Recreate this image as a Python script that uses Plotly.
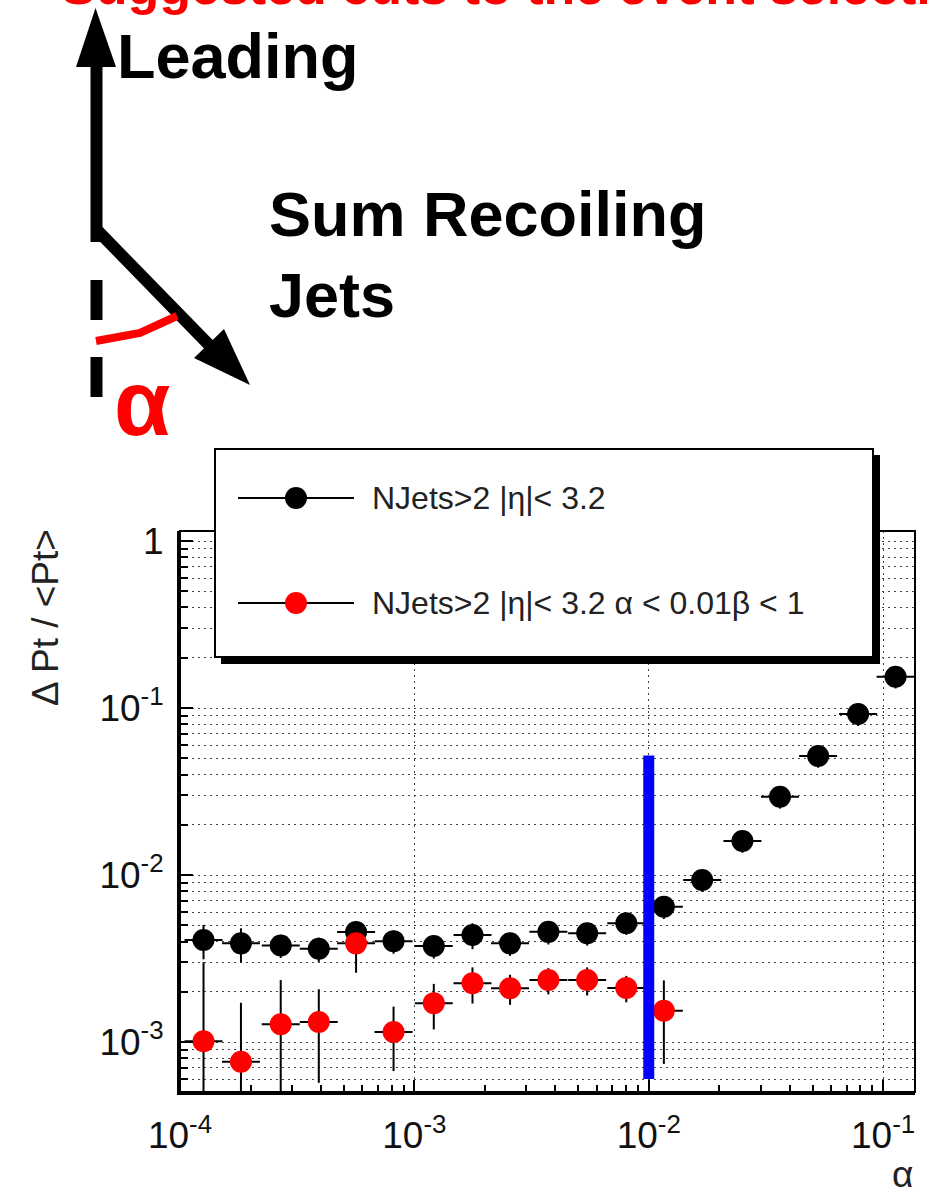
import plotly.graph_objects as go

# ---- measured dijet balance vs alpha ----
alpha = [1.26e-4, 1.82e-4, 2.69e-4, 3.91e-4, 5.64e-4, 8.15e-4, 1.21e-3, 1.77e-3,
         2.56e-3, 3.73e-3, 5.46e-3, 8.02e-3, 1.16e-2, 1.69e-2, 2.51e-2, 3.63e-2,
         5.28e-2, 7.82e-2, 0.113]

# NJets>2 |eta|<3.2
resp_all = [4.08e-3, 3.90e-3, 3.79e-3, 3.62e-3, 4.56e-3, 4.02e-3, 3.76e-3, 4.37e-3,
            3.90e-3, 4.57e-3, 4.48e-3, 5.14e-3, 6.46e-3, 9.33e-3, 1.60e-2, 2.94e-2,
            5.16e-2, 9.21e-2, 0.154]
err_all = [0.95e-3, 0.90e-3, 0.60e-3, 0.60e-3, 0.75e-3, 0.64e-3, 0.60e-3, 0.77e-3,
           0.62e-3, 0.73e-3, 0.70e-3, 0.75e-3, 1.0e-3, 1.4e-3, 2.4e-3, 4.4e-3,
           7.7e-3, 1.4e-2, 2.3e-2]

# NJets>2 |eta|<3.2, alpha<0.01, beta<1
alpha_sel = alpha[:13]
resp_sel = [1.01e-3, 7.62e-4, 1.28e-3, 1.32e-3, 3.90e-3, 1.15e-3, 1.71e-3, 2.25e-3,
            2.10e-3, 2.35e-3, 2.35e-3, 2.11e-3, 1.54e-3]
err_sel = [2.0e-3, 0.96e-3, 1.07e-3, 0.75e-3, 1.3e-3, 0.48e-3, 0.52e-3, 0.55e-3,
           0.43e-3, 0.42e-3, 0.45e-3, 0.38e-3, 0.8e-3]

# alpha cut marker
alpha_cut = 0.01
cut_line_y = [6.0e-4, 5.2e-2]

# axis ticks
x_tickvals = [1e-4, 1e-3, 1e-2, 1e-1]
x_ticktext = ["10<sup>-4</sup>", "10<sup>-3</sup>", "10<sup>-2</sup>", "10<sup>-1</sup>"]
y_tickvals = [1e-3, 1e-2, 1e-1, 1]
y_ticktext = ["10<sup>-3</sup>", "10<sup>-2</sup>", "10<sup>-1</sup>", "1"]

legend_labels = ["NJets>2 |η|< 3.2", "NJets>2 |η|< 3.2 α < 0.01β < 1"]

BIN_HALF_DEX = 0.081  # half bin width in decades (log-binned histogram)

W, H = 933, 1200
SANS = "Liberation Sans, Arial, Helvetica, sans-serif"
DOT = "2px,4px"


def px(x):
    return x / W


def py(y):
    return 1 - y / H


def bin_err(xs):
    plus = [a * (10 ** BIN_HALF_DEX - 1) for a in xs]
    minus = [a * (1 - 10 ** -BIN_HALF_DEX) for a in xs]
    return plus, minus


def minor_vals(lo_exp, hi_exp):
    vals = []
    for e in range(lo_exp, hi_exp):
        for m in range(2, 10):
            vals.append(m * 10 ** e)
    return vals


fig = go.Figure()

for xs, ys, es, col in [(alpha, resp_all, err_all, "black"),
                        (alpha_sel, resp_sel, err_sel, "#ff0000")]:
    xp, xm = bin_err(xs)
    fig.add_trace(go.Scatter(
        x=xs, y=ys, mode="markers",
        marker=dict(size=22, color=col, symbol="circle", line=dict(width=0)),
        error_x=dict(type="data", symmetric=False, array=xp, arrayminus=xm,
                     color="black", thickness=2, width=0),
        error_y=dict(type="data", array=es, color="black", thickness=2, width=0),
        showlegend=False,
    ))

# cut line
fig.add_trace(go.Scatter(
    x=[alpha_cut, alpha_cut], y=cut_line_y, mode="lines",
    line=dict(color="#0000ff", width=11), showlegend=False,
))

fig.update_xaxes(
    type="log", range=[-4.0, -0.864], domain=[px(180), px(915)],
    automargin=False,
    showline=True, linewidth=3, linecolor="black",
    ticks="inside", ticklen=12, tickwidth=1.5, tickcolor="black",
    tickmode="array", tickvals=x_tickvals, ticktext=x_ticktext,
    tickfont=dict(family=SANS, size=37, color="#111"),
    ticklabelstandoff=9,
    showgrid=True, gridcolor="#444", gridwidth=1, griddash=DOT,
    minor=dict(tickmode="array", tickvals=minor_vals(-4, 0), ticks="inside",
               ticklen=7, tickwidth=1.5, tickcolor="black", showgrid=False),
    zeroline=False,
)
fig.update_yaxes(
    type="log", range=[-3.299, 0.060], domain=[py(1092), py(531)],
    automargin=False,
    showline=True, linewidth=3, linecolor="black",
    ticks="inside", ticklen=13, tickwidth=1.5, tickcolor="black",
    tickmode="array", tickvals=y_tickvals, ticktext=y_ticktext,
    tickfont=dict(family=SANS, size=37, color="#111"),
    ticklabelstandoff=6,
    showgrid=True, gridcolor="#444", gridwidth=1, griddash=DOT,
    minor=dict(tickmode="array", tickvals=minor_vals(-4, 1), ticks="inside",
               ticklen=8, tickwidth=1.5, tickcolor="black",
               showgrid=True, gridcolor="#444", gridwidth=1, griddash=DOT),
    zeroline=False,
)

shapes = []
# frame
shapes.append(dict(type="rect", xref="paper", yref="paper",
                   x0=px(180), x1=px(915), y0=py(1092), y1=py(531),
                   line=dict(color="black", width=2), layer="above"))
# legend box with shadow
shapes.append(dict(type="rect", xref="paper", yref="paper",
                   x0=px(221), x1=px(880), y0=py(664), y1=py(455),
                   fillcolor="black", line=dict(width=0), layer="above"))
shapes.append(dict(type="rect", xref="paper", yref="paper",
                   x0=px(215), x1=px(873), y0=py(657), y1=py(449),
                   fillcolor="white", line=dict(color="black", width=2), layer="above"))
for ly, col in [(498, "black"), (603, "#ff0000")]:
    shapes.append(dict(type="line", xref="paper", yref="paper",
                       x0=px(238), x1=px(354), y0=py(ly), y1=py(ly),
                       line=dict(color="black", width=2), layer="above"))
    shapes.append(dict(type="circle", xref="paper", yref="paper",
                       x0=px(285), x1=px(307), y0=py(ly + 11), y1=py(ly - 11),
                       fillcolor=col, line=dict(width=0), layer="above"))

# jet diagram: leading jet arrow
shapes.append(dict(type="line", xref="paper", yref="paper",
                   x0=px(96.5), x1=px(96.5), y0=py(242), y1=py(60),
                   line=dict(color="black", width=12), layer="above"))
shapes.append(dict(type="path", xref="paper", yref="paper",
                   path=f"M {px(76)},{py(67)} L {px(116)},{py(67)} L {px(95.5)},{py(8)} Z",
                   fillcolor="black", line=dict(width=0), layer="above"))
# recoil arrow
shapes.append(dict(type="line", xref="paper", yref="paper",
                   x0=px(97), x1=px(214), y0=py(230), y1=py(350),
                   line=dict(color="black", width=12), layer="above"))
shapes.append(dict(type="path", xref="paper", yref="paper",
                   path=f"M {px(194)},{py(358)} L {px(224)},{py(329)} L {px(250)},{py(385)} Z",
                   fillcolor="black", line=dict(width=0), layer="above"))
# dashed axis continuation
for y0, y1 in [(280, 320), (357, 397)]:
    shapes.append(dict(type="line", xref="paper", yref="paper",
                       x0=px(96.5), x1=px(96.5), y0=py(y0), y1=py(y1),
                       line=dict(color="black", width=12), layer="above"))
# angle mark
shapes.append(dict(type="path", xref="paper", yref="paper",
                   path=f"M {px(96)},{py(341)} L {px(140)},{py(333)} L {px(177)},{py(316)}",
                   line=dict(color="#ff0000", width=8), layer="above"))

fig.update_layout(shapes=shapes)


def ann(text, x, y, size, color="black", xanchor="left", yanchor="middle",
        family=SANS, angle=0):
    fig.add_annotation(text=text, x=px(x), y=py(y), xref="paper", yref="paper",
                       xanchor=xanchor, yanchor=yanchor, showarrow=False,
                       textangle=angle, borderpad=0,
                       font=dict(family=family, size=size, color=color))


ann("<b>Suggested cuts to the event selection</b>", 60, -14, 52, color="#ff0000")
ann("<b>Leading</b>", 116, 56, 63)
ann("<b>Sum Recoiling</b>", 268, 214, 63)
ann("<b>Jets</b>", 268, 295, 63)
ann("<b>α</b>", 142, 403, 92, color="#ff0000", xanchor="center")

ann(legend_labels[0], 371, 498, 32, color="#222")
ann(legend_labels[1], 371, 603, 32, color="#222")

ann("Δ Pt / &lt;Pt&gt;", 45, 618, 37, color="#222", xanchor="center", angle=-90)
ann("α", 914, 1174, 37, color="#222", xanchor="right")

fig.update_layout(
    width=W, height=H, margin=dict(l=0, r=0, t=0, b=0, autoexpand=False),
    paper_bgcolor="white", plot_bgcolor="white",
    showlegend=False,
)

fig.write_html("out.html")
